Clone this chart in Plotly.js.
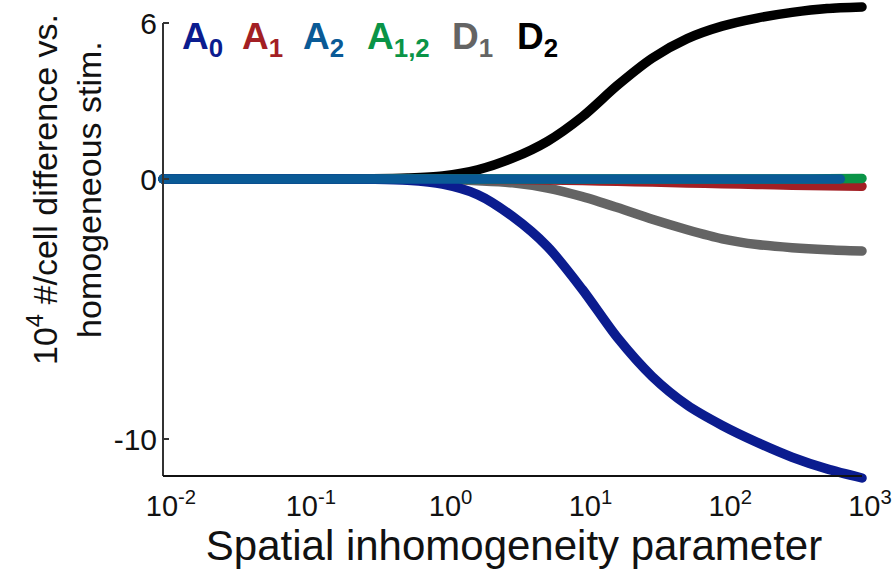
<!DOCTYPE html>
<html>
<head>
<meta charset="utf-8">
<script src="https://cdn.plot.ly/plotly-3.0.1.min.js"></script>
<style>
html,body{margin:0;padding:0;background:#fff;}
#chart{width:892px;height:569px;}
.js-line{stroke-linecap:round;}
</style>
</head>
<body>
<div id="chart"></div>
<script>
// x values (spatial inhomogeneity parameter)
const xVals = [0.01, 0.0316, 0.1, 0.316, 0.562, 1, 1.778, 3.162, 5.623, 10, 17.78, 31.62, 56.23, 100, 177.8, 316.2, 562.3, 1000];
const xValsA2 = [0.01, 0.0316, 0.1, 0.316, 0.562, 1, 1.778, 3.162, 5.623, 10, 17.78, 31.62, 56.23, 100, 177.8, 316.2, 562.3, 700];
// series (10^4 #/cell difference vs. homogeneous stim.)
const D2  = [0, 0, 0, 0.01, 0.04, 0.12, 0.35, 0.8, 1.45, 2.4, 3.6, 4.65, 5.4, 5.88, 6.19, 6.41, 6.56, 6.62];
const D1  = [0, 0, 0, 0, -0.01, -0.02, -0.07, -0.15, -0.35, -0.68, -1.1, -1.55, -1.95, -2.3, -2.52, -2.64, -2.72, -2.77];
const A1  = [0, 0, 0, 0, 0, 0, -0.01, -0.02, -0.04, -0.06, -0.09, -0.12, -0.15, -0.18, -0.21, -0.24, -0.26, -0.28];
const A12 = [0, 0, 0, 0, 0, 0, 0, 0, 0, 0, 0, 0, 0, 0, 0, 0, 0.01, 0.02];
const A0  = [0, 0, 0, -0.01, -0.05, -0.2, -0.6, -1.44, -2.6, -4.25, -6.1, -7.6, -8.7, -9.48, -10.13, -10.7, -11.15, -11.5];
const A2  = [0, 0, 0, 0, 0, 0, 0, 0, 0, 0, 0, 0, 0, 0, 0, 0, 0, 0];

const xTickVals = [0.01, 0.1, 1, 10, 100, 1000];
const xTickText = ['10<sup>-2</sup>', '10<sup>-1</sup>', '10<sup>0</sup>', '10<sup>1</sup>', '10<sup>2</sup>', '10<sup>3</sup>'];
const yTickVals = [6, 0, -10];
const yTickText = ['6', '0', '-10'];

const legendLabels = ['A<sub>0</sub>', 'A<sub>1</sub>', 'A<sub>2</sub>', 'A<sub>1,2</sub>', 'D<sub>1</sub>', 'D<sub>2</sub>'];
const legendColors = ['#0b1c8f', '#a31f24', '#0a5a96', '#0a9447', '#646464', '#000000'];
const legendPx = [180, 240, 301, 365, 450, 515];

// layout geometry (pixels)
const W = 892, H = 569;
const L = 158, R = 870, T = 2, B = 484;
const pxPerDec = 139.8, axisLeftPx = 163;
const pxPerUnit = 26, zeroPx = 179;
const xr = [-2 - (axisLeftPx - L) / pxPerDec, -2 + (R - axisLeftPx) / pxPerDec];
const yr = [-(B - zeroPx) / pxPerUnit, (zeroPx - T) / pxPerUnit];
const pxX = p => (p - L) / (R - L);
const pxY = p => (B - p) / (B - T);
const yAxisBottom = -(476 - zeroPx) / pxPerUnit;

const lw = 9.5;
function tr(x, y, c, name) {
  return {x: x, y: y, type: 'scatter', mode: 'lines', name: name,
          line: {color: c, width: lw, shape: 'spline', smoothing: 0.8}, hoverinfo: 'skip'};
}
const data = [
  tr(xVals, D2, legendColors[5], 'D2'),
  tr(xVals, D1, legendColors[4], 'D1'),
  tr(xVals, A1, legendColors[1], 'A1'),
  tr(xVals, A12, legendColors[3], 'A12'),
  tr(xVals, A0, legendColors[0], 'A0'),
  tr(xValsA2, A2, legendColors[2], 'A2')
];

const font = 'Liberation Sans, Arial, Helvetica, sans-serif';
const narrow = 'Liberation Sans Narrow, Arial Narrow, Liberation Sans, sans-serif';
const annotations = legendLabels.map((t, i) => ({
  text: '<b>' + t + '</b>', xref: 'paper', yref: 'paper',
  x: pxX(legendPx[i]), y: pxY(14), xanchor: 'left', yanchor: 'top',
  showarrow: false, font: {family: font, size: 37, color: legendColors[i]}
}));
annotations.push({
  text: '10<sup>4</sup> #/cell difference vs.<br>homogeneous stim.',
  xref: 'paper', yref: 'paper', x: pxX(65), y: pxY(189), xanchor: 'center', yanchor: 'middle',
  textangle: -90, showarrow: false, font: {family: narrow, size: 34, color: '#111'}
});

const layout = {
  width: W, height: H,
  margin: {l: L, r: W - R, t: T, b: H - B, pad: 0},
  paper_bgcolor: '#fff', plot_bgcolor: '#fff',
  showlegend: false,
  font: {family: font, color: '#111'},
  xaxis: {
    type: 'log', range: xr, showgrid: false, zeroline: false, showline: false,
    tickvals: xTickVals, ticktext: xTickText, ticks: '',
    ticklabelshift: 8, ticklabelstandoff: 2,
    tickfont: {family: font, size: 29, color: '#111'},
    title: {text: 'Spatial inhomogeneity parameter', font: {family: font, size: 42, color: '#111'}, standoff: 12}
  },
  yaxis: {
    range: yr, showgrid: false, zeroline: false, showline: false,
    tickvals: yTickVals, ticktext: yTickText, ticks: '',
    tickfont: {family: font, size: 30, color: '#111'}, ticklabelstandoff: 0
  },
  shapes: [
    {type: 'line', xref: 'paper', yref: 'y', x0: pxX(axisLeftPx), x1: pxX(axisLeftPx), y0: yAxisBottom, y1: 6, line: {color: '#333', width: 2}},
    {type: 'line', xref: 'paper', yref: 'y', x0: pxX(axisLeftPx), x1: pxX(axisLeftPx + pxPerDec * 5), y0: yAxisBottom, y1: yAxisBottom, line: {color: '#111', width: 2}},
    {type: 'line', xref: 'paper', yref: 'y', x0: pxX(axisLeftPx), x1: pxX(axisLeftPx + 6), y0: 6, y1: 6, line: {color: '#333', width: 2}},
    {type: 'line', xref: 'paper', yref: 'y', x0: pxX(axisLeftPx), x1: pxX(axisLeftPx + 6), y0: 0, y1: 0, line: {color: '#333', width: 2}},
    {type: 'line', xref: 'paper', yref: 'y', x0: pxX(axisLeftPx), x1: pxX(axisLeftPx + 6), y0: -10, y1: -10, line: {color: '#333', width: 2}}
  ],
  annotations: annotations
};

Plotly.newPlot('chart', data, layout, {staticPlot: true, displayModeBar: false});
</script>
</body>
</html>
